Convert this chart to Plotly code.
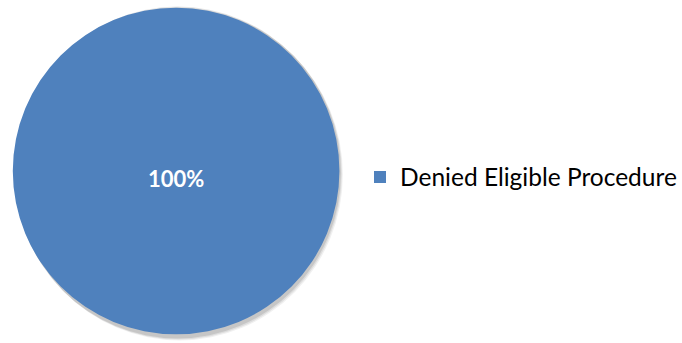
import plotly.graph_objects as go

# Chart data
categories = ["Denied Eligible Procedure"]
values = [1]
colors = ["#4F81BD"]

W, H = 682, 343
# Pie placement in pixels (left, right, top, bottom)
px_l, px_r, px_t, px_b = 13, 345, 5, 337

fig = go.Figure()

# soft drop shadow under the pie
cx, cy, r = (px_l + px_r) / 2, (px_t + px_b) / 2, (px_r - px_l) / 2
for i, op in enumerate([0.10, 0.08, 0.06]):
    d = 1.5 + i
    fig.add_shape(
        type="circle", xref="paper", yref="paper", layer="below",
        x0=(cx - r + d) / W, x1=(cx + r + d) / W,
        y0=1 - (cy + r + d) / H, y1=1 - (cy - r + d) / H,
        fillcolor=f"rgba(0,0,0,{op})", line=dict(width=0),
    )

fig.add_trace(go.Pie(
    labels=categories,
    values=values,
    marker=dict(colors=colors, line=dict(width=0)),
    sort=False,
    textinfo="none",
    domain=dict(x=[px_l / W, px_r / W], y=[1 - px_b / H, 1 - px_t / H]),
    hoverinfo="skip",
))

# percentage label, sitting slightly below the pie centre
share = values[0] / sum(values)
fig.add_annotation(
    x=cx / W, y=1 - 178 / H, xref="paper", yref="paper",
    text=f"{share:.0%}", showarrow=False,
    font=dict(family="Lato", size=22, color="white", weight="bold"),
    xanchor="center", yanchor="middle",
)

fig.update_layout(
    width=W, height=H,
    margin=dict(l=0, r=0, t=0, b=0),
    paper_bgcolor="white",
    plot_bgcolor="white",
    showlegend=True,
    legend=dict(
        x=366 / W, xanchor="left",
        y=1 - 177 / H, yanchor="middle",
        font=dict(family="Lato", size=24.5, color="#000000"),
        bgcolor="rgba(0,0,0,0)",
        borderwidth=0,
    ),
)

fig.write_html("out.html")
